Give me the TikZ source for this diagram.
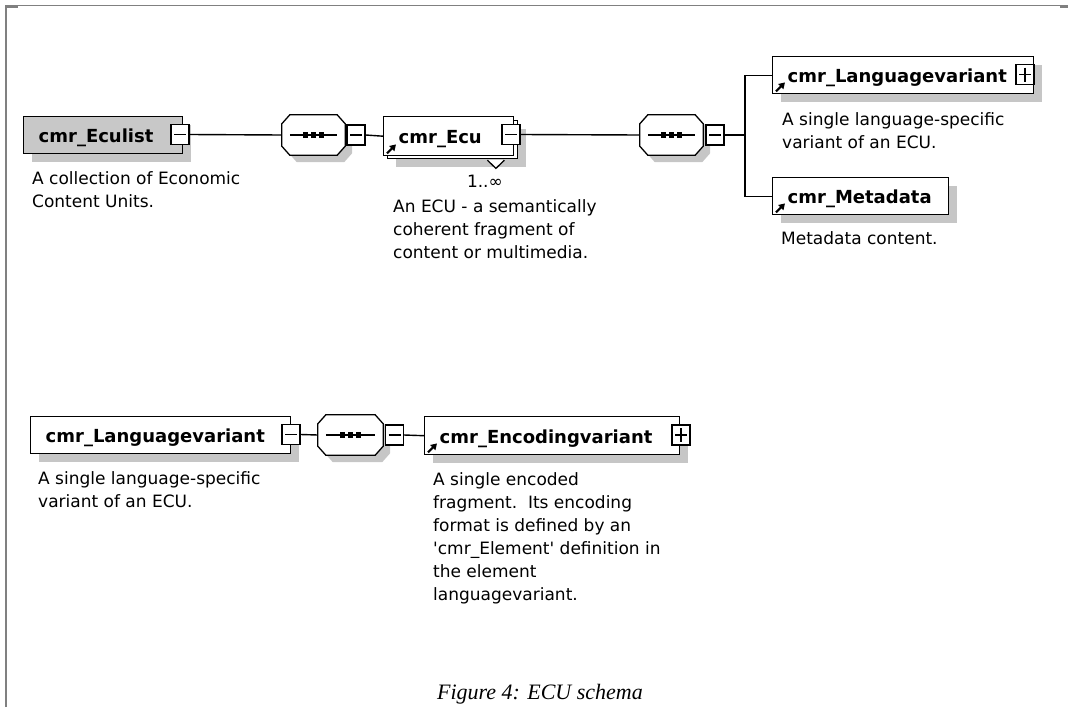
\documentclass[tikz,border=0pt]{standalone}
\usepackage{fontspec}
\newfontfamily\uifont{DejaVu Sans}
\newfontfamily\capfont{Liberation Serif}
\usetikzlibrary{shadows,arrows.meta,calc}
\definecolor{shadowgray}{RGB}{198,198,198}
\definecolor{framegray}{RGB}{128,128,128}
\definecolor{rootfill}{RGB}{200,200,200}
\tikzset{
  elbox/.style={draw=black, line width=1.4pt, fill=white, anchor=north west,
    minimum height=37pt, inner xsep=15pt, inner ysep=0pt, align=left,
    text height=15pt, text depth=0pt,
    font=\uifont\bfseries\fontsize{18}{20}\selectfont},
  shadowed/.style={drop shadow={shadow xshift=8pt, shadow yshift=-8pt, opacity=1, fill=shadowgray}},
  pmbox/.style={draw=black, line width=1.3pt, fill=white, minimum width=18pt,
    minimum height=20pt, inner sep=0pt},
  minusbox/.style={pmbox, path picture={
    \draw[line width=1.3pt] ([xshift=3pt]path picture bounding box.west) -- ([xshift=-3pt]path picture bounding box.east);}},
  plusbox/.style={pmbox, path picture={
    \draw[line width=1.3pt] ([xshift=3pt]path picture bounding box.west) -- ([xshift=-3pt]path picture bounding box.east);
    \draw[line width=1.3pt] ([yshift=-3pt]path picture bounding box.north) -- ([yshift=3pt]path picture bounding box.south);}},
  seqnode/.style={minimum width=63pt, minimum height=40pt, inner sep=0pt},
  desc/.style={anchor=base west, inner sep=0pt, font=\uifont\fontsize{17}{23}\selectfont},
  wire/.style={line width=1.4pt},
  refarrow/.style={line width=2.2pt, -{Triangle[length=6pt,width=7pt]}}
}
% outline of a sequence compositor (octagon), optionally shifted
\newcommand\octoutline[2]{%
  ($(#1.north west)+(8,0)+#2$) -- ($(#1.north east)+(-8,0)+#2$) --
  ($(#1.north east)+(0,9)+#2$) -- ($(#1.south east)+(0,-9)+#2$) --
  ($(#1.south east)+(-8,0)+#2$) -- ($(#1.south west)+(8,0)+#2$) --
  ($(#1.south west)+(0,-9)+#2$) -- ($(#1.north west)+(0,9)+#2$) -- cycle}
\newcommand\seqglyph[1]{%
  \fill[shadowgray] \octoutline{#1}{(7,7)};
  \filldraw[fill=white, draw=black, line width=1.3pt] \octoutline{#1}{(0,0)};
  \draw[line width=1.3pt] ($(#1.west)+(8,0)$) -- ($(#1.east)+(-8,0)$);
  \foreach \d in {-8,0,8} {\fill ($(#1.center)+(\d,0)+(-2.6,-2.6)$) rectangle ++(5.2,5.2);}
}
\newcommand\refmark[1]{%
  \draw[refarrow] ($(#1.south west)+(4,-3)$) -- ($(#1.south west)+(13,-12)$);}
\begin{document}
\begin{tikzpicture}[x=1pt,y=-1pt]
  \useasboundingbox (0,0) rectangle (1068,707);
  % page frame
  \draw[framegray, line width=2pt] (6,707) -- (6,5);
  \draw[framegray, line width=1.2pt] (5,5.6) -- (1068,5.6);
  \fill[framegray] (5,5) rectangle (18,7.5);
  \fill[framegray] (1060,5) rectangle (1068,7.5);

  % ---------- top row ----------
  \node[elbox, shadowed, fill=rootfill, text width=129pt] (eculist) at (23,116) {cmr\_Eculist};
  \node[minusbox] (eculistpm) at (180,134.5) {};
  \node[desc] (eculistdesc) at (32,184) {\begin{tabular}[t]{@{}l@{}}A collection of Economic\\Content Units.\end{tabular}};

  \node[seqnode] (seqa) at (313.5,135) {};
  \seqglyph{seqa}
  \node[minusbox] (seqapm) at (356,135) {};

  \node[elbox, shadowed, text width=100pt, minimum height=38pt] (ecuback) at (387,120) {};
  \filldraw[fill=white, line width=1.3pt] ($(ecuback.south east)+(-31,0.8)$) -- ($(ecuback.south east)+(-22.5,9)$) -- ($(ecuback.south east)+(-14,0.8)$);
  \node[elbox, text width=100pt, minimum height=39pt] (ecu) at (383,116) {cmr\_Ecu};
  \refmark{ecu}
  \node[minusbox] (ecupm) at (511,134.5) {};
  \node[anchor=base east, inner sep=0pt, font=\uifont\fontsize{17}{20}\selectfont] (ecuocc) at (503,187) {1..∞};
  \node[desc] (ecudesc) at (393,212) {\begin{tabular}[t]{@{}l@{}}An ECU - a semantically\\coherent fragment of\\content or multimedia.\end{tabular}};

  \node[seqnode] (seqb) at (671.5,135) {};
  \seqglyph{seqb}
  \node[minusbox] (seqbpm) at (715,135) {};
  \coordinate (fork) at (745,135);

  \node[elbox, shadowed, text width=231pt] (langref) at (772,56) {cmr\_Languagevariant};
  \refmark{langref}
  \node[plusbox] (langrefpm) at (1025,74.5) {};
  \node[desc] (langrefdesc) at (782,125) {\begin{tabular}[t]{@{}l@{}}A single language-specific\\variant of an ECU.\end{tabular}};

  \node[elbox, shadowed, text width=146pt] (meta) at (772,177) {cmr\_Metadata};
  \refmark{meta}
  \node[desc] (metadesc) at (781,244) {Metadata content.};

  \draw[wire] (eculistpm.east) -- (seqa.west);
  \draw[wire] (seqapm.east) -- (ecu.west);
  \draw[wire] (ecupm.east) -- (seqb.west);
  \draw[wire] (seqbpm.east) -- (fork);
  \draw[wire] (langref.west) -| (fork) |- (meta.west);

  % ---------- bottom row ----------
  \node[elbox, shadowed, text width=230pt] (langdef) at (30,416) {cmr\_Languagevariant};
  \node[minusbox] (langdefpm) at (291,434.5) {};
  \node[desc] (langdefdesc) at (38,484) {\begin{tabular}[t]{@{}l@{}}A single language-specific\\variant of an ECU.\end{tabular}};

  \node[seqnode, minimum width=65pt] (seqc) at (350.5,435) {};
  \seqglyph{seqc}
  \node[minusbox] (seqcpm) at (394.5,435) {};

  \node[elbox, shadowed, text width=225pt, minimum height=38pt] (encvar) at (424,416) {cmr\_Encodingvariant};
  \refmark{encvar}
  \node[plusbox] (encvarpm) at (681,435) {};
  \node[desc] (encvardesc) at (433,485) {\begin{tabular}[t]{@{}l@{}}A single encoded\\fragment.\ \ Its encoding\\format is defined by an\\'cmr\_Element' definition in\\the element\\languagevariant.\end{tabular}};

  \draw[wire] (langdefpm.east) -- (seqc.west);
  \draw[wire] (seqcpm.east) -- (encvar.west);

  % caption
  \node[anchor=base, inner sep=0pt, font=\capfont\itshape\fontsize{22}{26}\selectfont] (caption) at (540,699) {Figure 4: ECU schema};
\end{tikzpicture}
\end{document}
